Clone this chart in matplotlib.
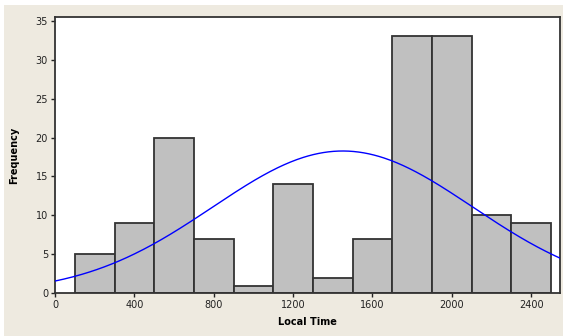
import numpy as np
import matplotlib.pyplot as plt

# histogram bins (local time) and counts
bin_edges = [100, 300, 500, 700, 900, 1100, 1300, 1500, 1700, 1900, 2100, 2300, 2500]
counts = [5, 9, 20, 7, 1, 14, 2, 7, 33, 33, 10, 9]

# fitted normal curve parameters (estimated)
fit_mean = 1450
fit_sd = 655

xticks = [0, 400, 800, 1200, 1600, 2000, 2400]
yticks = [0, 5, 10, 15, 20, 25, 30, 35]

bg = "#EEEAE0"
fig = plt.figure(figsize=(5.63, 3.36), dpi=100, facecolor="white")
# beige panel with a thin white margin at top and left, like the screenshot
fig.patches.append(plt.Rectangle((4 / 563, 0), 1, 1 - 5 / 336, transform=fig.transFigure,
                                 facecolor=bg, edgecolor="none", zorder=-1))
ax = fig.add_axes([0.0977, 0.127, 0.897, 0.823])

edges = np.array(bin_edges)
widths = np.diff(edges)
ax.bar(edges[:-1], counts, width=widths, align="edge",
       color="#C0C0C0", edgecolor="#333333", linewidth=1.3, zorder=2)

n = sum(counts)
xs = np.linspace(0, 2545, 400)
ys = n * widths[0] / (fit_sd * np.sqrt(2 * np.pi)) * np.exp(-(xs - fit_mean) ** 2 / (2 * fit_sd ** 2))
ax.plot(xs, ys, color="#0000FF", linewidth=1.0, zorder=3)

ax.set_xlim(0, 2545)
ax.set_ylim(0, 35.5)
ax.set_xticks(xticks)
ax.set_yticks(yticks)
ax.tick_params(labelsize=7, length=3, width=1, direction="out", colors="#222222", pad=2)
for s in ax.spines.values():
    s.set_color("#333333")
    s.set_linewidth(1.3)

ax.set_xlabel("Local Time", fontsize=7, fontweight="bold", labelpad=5)
ax.set_ylabel("Frequency", fontsize=7, fontweight="bold", labelpad=12)

fig.savefig("out.png", dpi=100, facecolor="white")
